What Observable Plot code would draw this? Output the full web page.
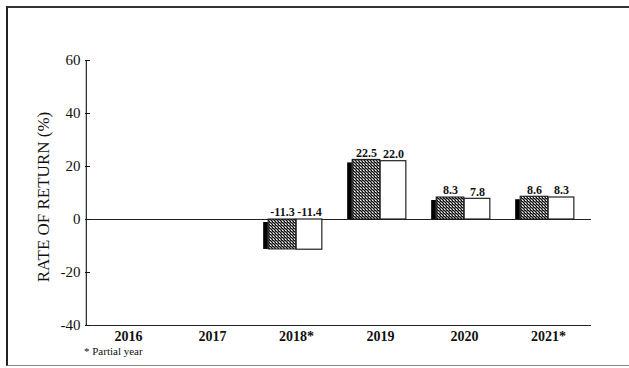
<!DOCTYPE html>
<html>
<head>
<meta charset="utf-8">
<script src="https://cdn.jsdelivr.net/npm/d3@7"></script>
<script src="https://cdn.jsdelivr.net/npm/@observablehq/plot@0.6"></script>
<style>
  html, body { margin: 0; padding: 0; background: #fff; }
  #wrap { position: relative; width: 629px; height: 368px; overflow: hidden; }
  #frame { position: absolute; left: 6px; top: 6px; width: 640px; height: 360px;
           border-left: 2px solid #222; border-top: 2px solid #333; border-bottom: 1px solid #888; box-sizing: border-box; }
  #chart { position: absolute; left: 0; top: 0; }
  #note { position: absolute; left: 84px; top: 345px; font: 11px "Liberation Serif", serif; color: #111; }
</style>
</head>
<body>
<div id="wrap">
  <div id="frame"></div>
  <div id="chart"></div>
  <div id="note">* Partial year</div>
</div>
<script>
const years = ["2016", "2017", "2018*", "2019", "2020", "2021*"];
const seriesA = [null, null, -11.3, 22.5, 8.3, 8.6];
const seriesB = [null, null, -11.4, 22.0, 7.8, 8.3];
const yTicks = [-40, -20, 0, 20, 40, 60];

const rowsA = years.map((y, i) => ({year: y, v: seriesA[i]})).filter(d => d.v != null);
const rowsB = years.map((y, i) => ({year: y, v: seriesB[i]})).filter(d => d.v != null);

const W = 629, H = 368;
const bw = (W - 85 - 38) / years.length; // band width
const half = bw / 2;

const chart = Plot.plot({
  width: W, height: H,
  marginLeft: 85, marginRight: 38, marginTop: 60, marginBottom: 43,
  style: {fontFamily: "'Liberation Serif', serif", color: "#111", background: "transparent"},
  x: {type: "band", domain: years, padding: 0, label: null},
  y: {domain: [-40, 60], ticks: yTicks, label: null},
  marks: [
    Plot.ruleY([0], {stroke: "#222", strokeWidth: 1}),
    Plot.ruleY([-40], {stroke: "#222", strokeWidth: 1.2}),
    Plot.ruleX([years[0]], {y1: -40, y2: 60, stroke: "#222", strokeWidth: 1.2, dx: -half}),
    Plot.axisY({ticks: yTicks, tickSize: -5, tickPadding: 10, fontSize: 15, tickFormat: d => String(d), label: null}),
    Plot.axisX({tickSize: 0, tickPadding: 6, fontSize: 14, fontWeight: "bold", label: null}),
    Plot.text(["RATE OF RETURN (%)"], {frameAnchor: "left", textAnchor: "middle", rotate: -90, dx: -42, dy: 4, fontSize: 17, fill: "#111"}),
    // 3D side face (black)
    Plot.barY(rowsA, {x: "year", y: "v", fill: "#000", insetLeft: half - 33, insetRight: half + 28, insetTop: 3}),
    // stippled bar
    Plot.barY(rowsA, {x: "year", y: "v", fill: "url(#stip)", stroke: "#111", strokeWidth: 1, insetLeft: half - 28, insetRight: half}),
    // white bar
    Plot.barY(rowsB, {x: "year", y: "v", fill: "#fff", stroke: "#222", strokeWidth: 1.2, insetLeft: half, insetRight: half - 26}),
    Plot.text(rowsA, {x: "year", y: d => Math.max(d.v, 0), text: d => d.v.toFixed(1), dx: -14, dy: -7, fontSize: 12, fontWeight: "bold", fill: "#111"}),
    Plot.text(rowsB, {x: "year", y: d => Math.max(d.v, 0), text: d => d.v.toFixed(1), dx: 13, dy: -7, fontSize: 12, fontWeight: "bold", fill: "#111"})
  ]
});

const ns = "http://www.w3.org/2000/svg";
const defs = document.createElementNS(ns, "defs");
defs.innerHTML = `<pattern id="stip" width="3" height="3" patternUnits="userSpaceOnUse">
  <rect width="3" height="3" fill="#8a8a8a"/>
  <rect x="0" y="0" width="1" height="1" fill="#111"/>
  <rect x="1" y="1" width="1" height="1" fill="#111"/>
  <rect x="2" y="2" width="1" height="1" fill="#111"/>
  <rect x="2" y="0" width="1" height="1" fill="#333"/>
  <rect x="0" y="2" width="1" height="1" fill="#eee"/>
</pattern>`;
chart.insertBefore(defs, chart.firstChild);
document.getElementById("chart").appendChild(chart);
</script>
</body>
</html>
